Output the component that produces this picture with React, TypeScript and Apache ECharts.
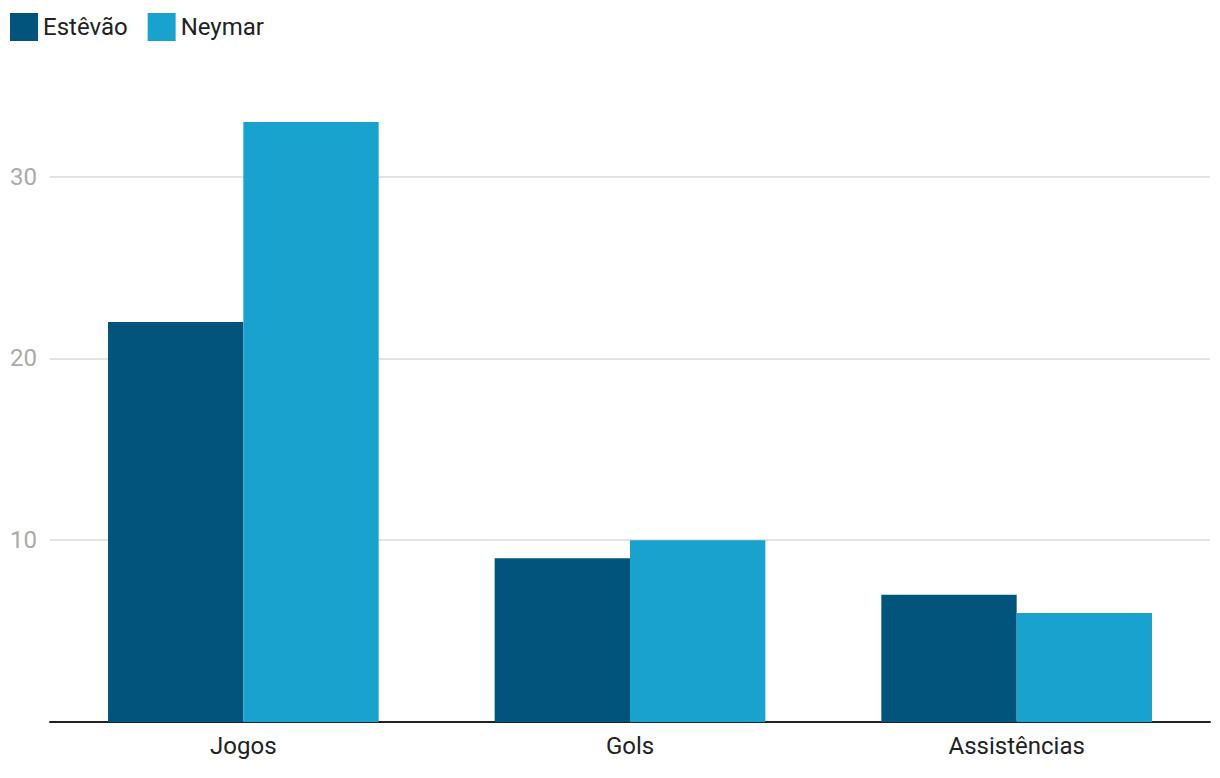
import React, { useEffect, useRef } from "react";
import * as echarts from "echarts";

const categories = ["Jogos", "Gols", "Assistências"];
const estevao = [22, 9, 7];
const neymar = [33, 10, 6];
const seriesNames = ["Estêvão", "Neymar"];
const colors = ["#02547d", "#1aa2ce"];

export default function App() {
  const ref = useRef<HTMLDivElement>(null);
  useEffect(() => {
    if (!ref.current) return;
    const chart = echarts.init(ref.current, undefined, { renderer: "svg" });
    chart.setOption({
      animation: false,
      textStyle: { fontFamily: "Roboto" },
      legend: {
        left: 5,
        top: 8,
        icon: "rect",
        itemWidth: 28,
        itemHeight: 28,
        itemGap: 20,
        textStyle: { fontSize: 24, color: "#222", fontFamily: "Roboto" },
        data: seriesNames,
      },
      grid: { left: 50, right: 10, top: 122, bottom: 56 },
      xAxis: {
        type: "category",
        data: categories,
        axisLine: { lineStyle: { color: "#222", width: 2 } },
        axisTick: { show: false },
        axisLabel: { fontSize: 24, color: "#222", margin: 12, fontFamily: "Roboto" },
      },
      yAxis: {
        type: "value",
        min: 0,
        max: 33,
        interval: 10,
        axisLine: { show: false },
        axisTick: { show: false },
        axisLabel: {
          fontSize: 24,
          color: "#aaaaaa",
          margin: 13,
          fontFamily: "Roboto",
          showMaxLabel: false,
          formatter: (v: number) => (v === 0 ? "" : String(v)),
        },
        splitLine: { showMaxLine: false, lineStyle: { color: "#e3e3e3", width: 2 } },
      },
      series: [
        {
          name: seriesNames[0],
          type: "bar",
          data: estevao,
          itemStyle: { color: colors[0] },
          barGap: "0%",
          barCategoryGap: "30%",
        },
        {
          name: seriesNames[1],
          type: "bar",
          data: neymar,
          itemStyle: { color: colors[1] },
          barGap: "0%",
          barCategoryGap: "30%",
        },
      ],
    });
    return () => chart.dispose();
  }, []);
  return (
    <div
      ref={ref}
      style={{ position: "fixed", left: 0, top: 0, width: 1220, height: 778, background: "#fff" }}
    />
  );
}
